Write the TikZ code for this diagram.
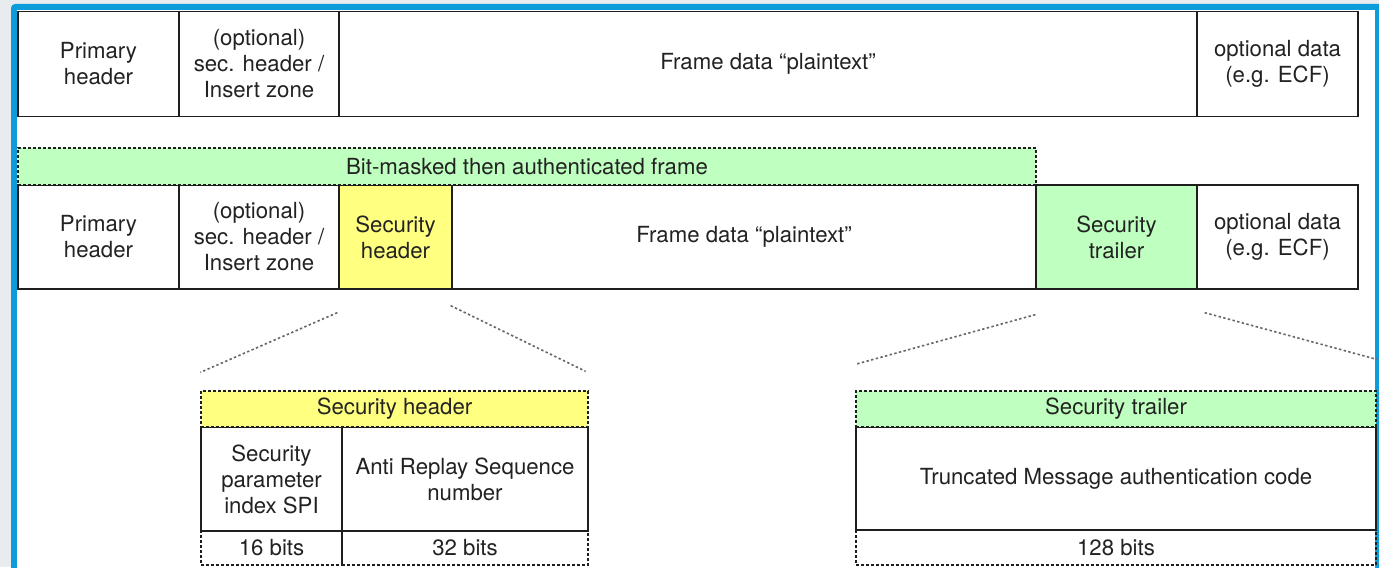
\documentclass[tikz,border=0pt]{standalone}
\usepackage{fontspec}
\setmainfont{TeX Gyre Heros}
\definecolor{bg}{HTML}{E9ECEF}
\definecolor{frameblue}{HTML}{0E9BDA}
\definecolor{boxgreen}{HTML}{BFFFBF}
\definecolor{boxyellow}{HTML}{FFFF80}
\definecolor{linec}{HTML}{1E1E1E}
\definecolor{txt}{HTML}{222222}
\begin{document}
\begin{tikzpicture}[x=0.5pt,y=-0.5pt,
  cell/.style={draw=linec, line width=0.65pt, rectangle, inner sep=0pt, align=center, text=txt,
    font=\fontsize{11.1}{13}\selectfont},
  dcell/.style={cell, dash pattern=on 1.5pt off 1pt},
  conn/.style={draw=black!60, line width=0.8pt, dash pattern=on 1.2pt off 1.2pt}]

\clip (0,0) rectangle (1379,567);
\fill[bg] (0,0) rectangle (1379,567);
\fill[frameblue, rounded corners=2pt] (11,4) rectangle (1395,620);
\fill[white] (17,10) rectangle (1375,620);

% ---- top frame ----
\node[cell, minimum width=80.5pt, minimum height=52.5pt] (ph1) at (98.5,64) {Primary\\header};
\node[cell, minimum width=80pt, minimum height=52.5pt] (sh1) at (259,64) {(optional)\\sec. header /\\Insert zone};
\node[cell, minimum width=429pt, minimum height=52.5pt] (fd1) at (768,64) {Frame data “plaintext”};
\node[cell, minimum width=80.5pt, minimum height=52.5pt] (od1) at (1277.5,64) {optional data\\(e.g. ECF)};

% ---- secured frame ----
\node[cell, minimum width=80.5pt, minimum height=52pt] (ph2) at (98.5,237) {Primary\\header};
\node[cell, minimum width=80pt, minimum height=52pt] (sh2) at (259,237) {(optional)\\sec. header /\\Insert zone};
\node[cell, fill=boxyellow, minimum width=56.5pt, minimum height=52pt] (sech) at (395.5,237) {Security\\header};
\node[cell, minimum width=292pt, minimum height=52pt] (fd2) at (744,237) {Frame data “plaintext”};
\node[cell, fill=boxgreen, minimum width=80.5pt, minimum height=52pt] (sect) at (1116.5,237) {Security\\trailer};
\node[cell, minimum width=80.5pt, minimum height=52pt] (od2) at (1277.5,237) {optional data\\(e.g. ECF)};
\node[dcell, fill=boxgreen, minimum width=509pt, minimum height=18.5pt] (auth) at (527,166.5) {Bit-masked then authenticated frame};

% ---- security header detail ----
\node[dcell, minimum width=70.5pt, minimum height=17pt] (b16) at (271.5,548) {16 bits};
\node[dcell, minimum width=123pt, minimum height=17pt] (b32) at (465,548) {32 bits};
\node[cell, minimum width=70.5pt, minimum height=52pt] (spi) at (271.5,479) {Security\\parameter\\index SPI};
\node[cell, minimum width=123pt, minimum height=52pt] (ars) at (465,479) {Anti Replay Sequence\\number};
\node[dcell, fill=boxyellow, minimum width=193.5pt, minimum height=18pt] (hband) at (394.5,409) {Security header};

% ---- security trailer detail ----
\node[dcell, minimum width=260pt, minimum height=17.5pt] (b128) at (1116,547.5) {128 bits};
\node[cell, minimum width=260pt, minimum height=51.5pt] (mac) at (1116,478.5) {Truncated Message authentication code};
\node[dcell, fill=boxgreen, minimum width=260pt, minimum height=18pt] (tband) at (1116,409) {Security trailer};

% ---- zoom connectors ----
\draw[conn] ([xshift=-0.5pt,yshift=-11.5pt]sech.south west) -- ([yshift=9pt]hband.north west);
\draw[conn] ([xshift=-1pt,yshift=-8pt]sech.south east) -- ([xshift=-1.5pt,yshift=9.5pt]hband.north east);
\draw[conn] ([yshift=-12.5pt]sect.south west) -- ([yshift=13pt]tband.north west);
\draw[conn] ([xshift=3.5pt,yshift=-11.5pt]sect.south east) -- ([yshift=15.5pt]tband.north east);
\end{tikzpicture}
\end{document}
